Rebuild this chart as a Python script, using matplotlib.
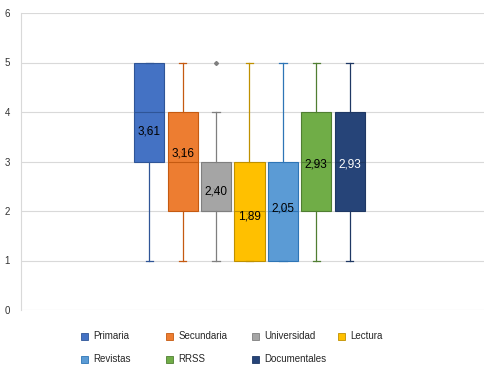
import matplotlib.pyplot as plt
from matplotlib.patches import Rectangle

# datos de las cajas
nombres = ['Primaria', 'Secundaria', 'Universidad', 'Lectura', 'Revistas', 'RRSS', 'Documentales']
q1 = [3, 2, 2, 1, 1, 2, 2]
mediana = [4, 3, 2, 2, 2, 3, 3]
q3 = [5, 4, 3, 3, 3, 4, 4]
bigote_min = [1, 1, 1, 1, 1, 1, 1]
bigote_max = [5, 5, 4, 5, 5, 5, 5]
medias = [3.61, 3.16, 2.40, 1.89, 2.05, 2.93, 2.93]
atipicos = [[], [], [5], [], [], [], []]

colores = ['#4472C4', '#ED7D31', '#A5A5A5', '#FFC000', '#5B9BD5', '#70AD47', '#264478']
bordes = ['#2F5597', '#C55A11', '#7F7F7F', '#BF9000', '#2E75B6', '#507E32', '#1F3864']
color_texto = ['black'] * 6 + ['white']

plt.rcParams['font.family'] = ['Liberation Sans', 'DejaVu Sans']

fig = plt.figure(figsize=(4.96, 3.82), dpi=100)
ax = fig.add_axes([21 / 496, 1 - 310 / 382, 463 / 496, 297 / 382])

stats = []
for i in range(len(nombres)):
    stats.append({'label': nombres[i], 'q1': q1[i], 'med': mediana[i], 'q3': q3[i],
                  'whislo': bigote_min[i], 'whishi': bigote_max[i],
                  'mean': medias[i], 'fliers': atipicos[i]})

pos = list(range(len(nombres)))
bp = ax.bxp(stats, positions=pos, widths=0.9, patch_artist=True, showmeans=True,
            showfliers=True, capwidths=0.22, manage_ticks=False, zorder=3)

for i in range(len(nombres)):
    bp['boxes'][i].set(facecolor=colores[i], edgecolor=bordes[i], linewidth=0.8)
    bp['medians'][i].set(color=bordes[i], linewidth=0.8)
    for ln in bp['whiskers'][2 * i:2 * i + 2] + bp['caps'][2 * i:2 * i + 2]:
        ln.set(color=bordes[i], linewidth=0.9)
    bp['means'][i].set(marker='x', markeredgecolor=bordes[i], markersize=4, markeredgewidth=0.6)
    bp['fliers'][i].set(marker='D', markerfacecolor='#7F7F7F', markeredgecolor='#7F7F7F', markersize=2)
    ax.text(pos[i], medias[i], f'{medias[i]:.2f}'.replace('.', ','), ha='center', va='center',
            fontsize=8.5, color=color_texto[i], zorder=5)

ax.set_xlim(-3.84, 10.02)
ax.set_ylim(0, 6)
ax.set_yticks(range(0, 7))
ax.set_xticks([])
ax.yaxis.grid(True, color='#D9D9D9', linewidth=0.8)
ax.set_axisbelow(True)
for s in ['top', 'right', 'bottom']:
    ax.spines[s].set_visible(False)
ax.spines['left'].set_color('#D9D9D9')
ax.tick_params(axis='y', length=0, pad=8, labelsize=7, labelcolor='#333333')

# leyenda manual en dos filas
xs = [81, 166, 252, 338]
ys = [336, 359]
for i, nom in enumerate(nombres):
    x = xs[i % 4]
    y = ys[i // 4]
    fig.add_artist(Rectangle((x / 496, 1 - (y + 3.5) / 382), 7 / 496, 7 / 382,
                             facecolor=colores[i], edgecolor=bordes[i], linewidth=0.6,
                             transform=fig.transFigure))
    fig.text((x + 12.5) / 496, 1 - y / 382, nom, ha='left', va='center', fontsize=7, color='#262626')

fig.savefig('out.png', dpi=100)
